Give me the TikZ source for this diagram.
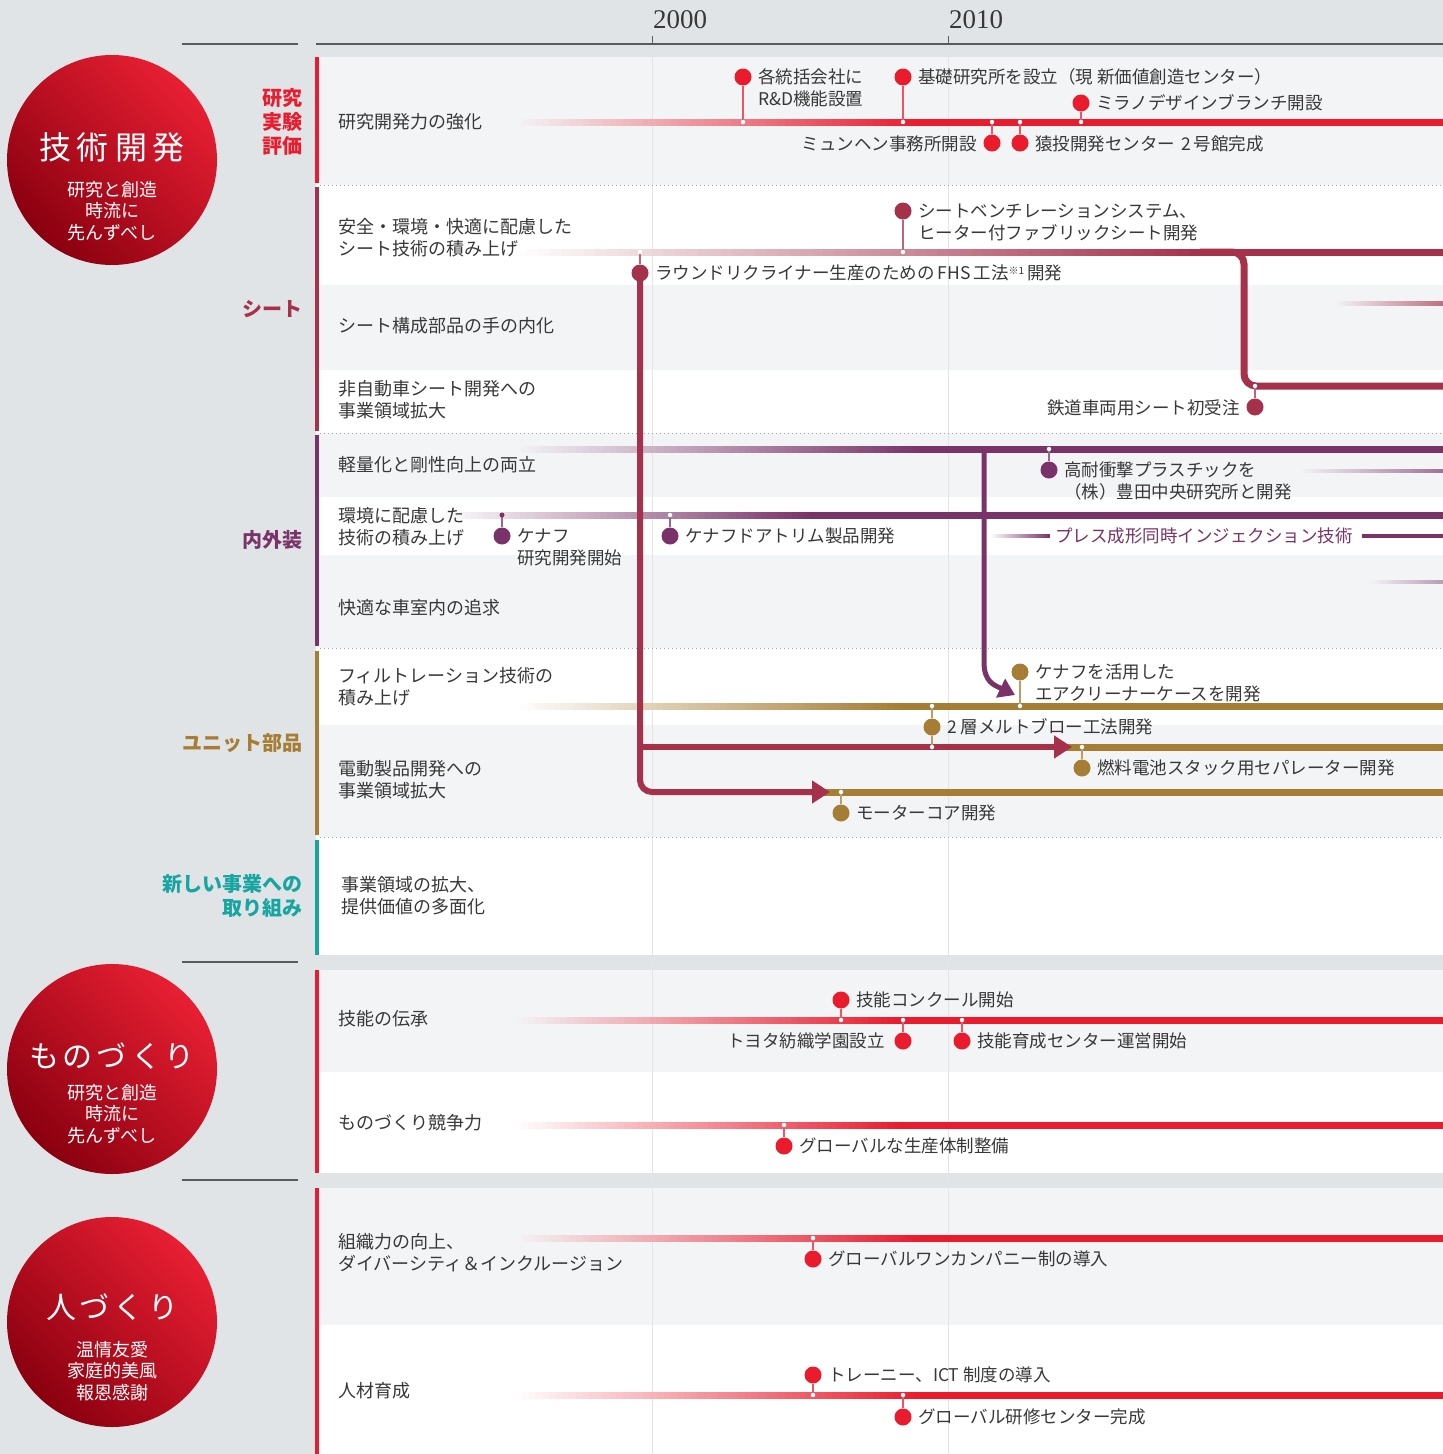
\documentclass[tikz,border=0pt]{standalone}
\usepackage{fontspec}
\setmainfont{Noto Sans CJK JP}
\newfontfamily\yrfont{Liberation Serif}
\usetikzlibrary{arrows.meta}
\definecolor{bgc}{HTML}{E1E4E7}
\definecolor{ltc}{HTML}{F3F4F6}
\definecolor{redc}{HTML}{EA1B2D}
\definecolor{seatc}{HTML}{A5314A}
\definecolor{purc}{HTML}{7A3368}
\definecolor{goldc}{HTML}{A67D34}
\definecolor{tealc}{HTML}{17A5A2}
\definecolor{txtc}{HTML}{383838}
\definecolor{gridc}{HTML}{E2E4E8}
\definecolor{rulec}{HTML}{5A5A5A}
\definecolor{cirlt}{HTML}{E81F33}
\definecolor{cirdk}{HTML}{8A000F}
\colorlet{seatlt}{seatc!70!white}
\colorlet{purlt}{purc!70!white}
\colorlet{purvlt}{purc!50!white}
\newcommand\fsz[2]{\fontsize{#1}{#2}\selectfont}
% y, x0, x1, color, bg, width
\newcommand\tline[6]{%
 \pgfmathsetmacro\stw{(#3-#2)/60}%
 \foreach \i in {0,...,59}{%
   \pgfmathsetmacro\pp{(\i+0.5)*100/60}%
   \pgfmathsetmacro\xa{#2+\stw*\i}%
   \pgfmathsetmacro\xb{#2+\stw*(\i+1)+0.6}%
   \fill[#4!\pp!#5] (\xa,{#1-#6/2}) rectangle (\xb,{#1+#6/2});}%
 \fill[#4] ({#3},{#1-#6/2}) rectangle (1443,{#1+#6/2});}
% name, color, x, doty, liney, labx, laby, style, text
\newcommand\event[9]{%
 \node[dot=#2] (#1) at (#3,#4) {};
 \coordinate (#1l) at (#3,#5);
 \draw[stem=#2] (#1) -- (#1l);
 \node[jn] at (#1l) {};
 \node[#8] (#1t) at (#6,#7) {#9};}
\tikzset{
 dot/.style={circle, fill=#1, minimum size=17pt, inner sep=0pt},
 jn/.style={circle, fill=white, minimum size=4.5pt, inner sep=0pt},
 stem/.style={draw=#1!75, line width=1.3pt},
 ev/.style={font=\fsz{17.5}{22}, text=txtc, inner sep=0pt, anchor=west, align=left},
 evr/.style={font=\fsz{17.5}{22}, text=txtc, inner sep=0pt, anchor=east, align=right},
 rl/.style={font=\fsz{18}{22}, text=txtc, inner sep=0pt, anchor=west, align=left},
 cat/.style={font=\fsz{20}{24}\bfseries, inner sep=0pt, anchor=east, align=right, text=#1},
 sep/.style={gray!70, line width=1pt, dash pattern=on 1pt off 3pt},
 rulel/.style={rulec, line width=1.5pt},
 conn/.style={line width=6pt, -{Triangle[length=18pt,width=22pt]}},
 circ/.style={top color=cirlt, bottom color=cirdk, shading angle=-45},
}
\begin{document}
\begin{tikzpicture}[x=1pt,y=-1pt]
\useasboundingbox (0,0) rectangle (1443,1454);
\fill[bgc] (0,0) rectangle (1443,1454);
% row backgrounds
\fill[ltc] (316,57) rectangle (1443,185);
\fill[white] (316,185) rectangle (1443,285);
\fill[ltc] (316,285) rectangle (1443,370);
\fill[white] (316,370) rectangle (1443,433);
\fill[ltc] (316,433) rectangle (1443,497);
\fill[white] (316,497) rectangle (1443,555);
\fill[ltc] (316,555) rectangle (1443,648);
\fill[white] (316,648) rectangle (1443,725);
\fill[ltc] (316,725) rectangle (1443,837);
\fill[white] (316,837) rectangle (1443,955);
\fill[ltc] (316,970) rectangle (1443,1072);
\fill[white] (316,1072) rectangle (1443,1173);
\fill[ltc] (316,1188) rectangle (1443,1325);
\fill[white] (316,1325) rectangle (1443,1454);
% grid lines
\draw[gridc, line width=1pt] (652,57) -- (652,1454);
\draw[gridc, line width=1pt] (948,57) -- (948,1454);
\draw[rulec, line width=1pt] (652,36) -- (652,44);
\draw[rulec, line width=1pt] (948,36) -- (948,44);
% separators
\draw[sep] (320,185) -- (1443,185);
\draw[sep] (320,433) -- (1443,433);
\draw[sep] (320,648) -- (1443,648);
\draw[sep] (320,837) -- (1443,837);
% left bars
\fill[redc] (315,57) rectangle (319,183);
\fill[seatc] (315,187) rectangle (319,431);
\fill[purc] (315,435) rectangle (319,646);
\fill[goldc] (315,651) rectangle (319,835);
\fill[tealc] (315,840) rectangle (319,955);
\fill[redc] (315,970) rectangle (319,1173);
\fill[redc] (315,1188) rectangle (319,1454);
% header
\draw[rulel] (316,44) -- (1443,44);
\draw[rulel] (182,44) -- (298,44);
\draw[rulel] (182,962) -- (298,962);
\draw[rulel] (182,1180) -- (298,1180);
\node[font=\yrfont\fsz{27}{30}, text=txtc, anchor=west, inner sep=0pt] (y2000) at (653,20) {2000};
\node[font=\yrfont\fsz{27}{30}, text=txtc, anchor=west, inner sep=0pt] (y2010) at (949,20) {2010};
% circles
\shade[circ] (112,160) circle[radius=105];
\shade[circ] (112,1069) circle[radius=105];
\shade[circ] (112,1322) circle[radius=105];
\node[font=\fsz{32}{36}, text=white, inner sep=0pt] (c1t) at (112,147) {技\hspace{6pt}術\hspace{6pt}開\hspace{6pt}発};
\node[font=\fsz{18}{21.5}, text=white, align=center, inner sep=0pt] (c1s) at (112,211) {研究と創造\\時流に\\先んずべし};
\node[font=\fsz{30}{34}, text=white, inner sep=0pt] (c2t) at (112,1056) {も\hspace{4pt}の\hspace{4pt}づ\hspace{4pt}く\hspace{4pt}り};
\node[font=\fsz{18}{21.5}, text=white, align=center, inner sep=0pt] (c2s) at (112,1114) {研究と創造\\時流に\\先んずべし};
\node[font=\fsz{30}{34}, text=white, inner sep=0pt] (c3t) at (112,1307) {人\hspace{4pt}づ\hspace{4pt}く\hspace{4pt}り};
\node[font=\fsz{18}{21.5}, text=white, align=center, inner sep=0pt] (c3s) at (112,1371) {温情友愛\\家庭的美風\\報恩感謝};
% category labels
\node[cat=redc] (k1) at (303,122) {研究\\実験\\評価};
\node[cat=seatc] (k2) at (303,309) {シート};
\node[cat=purc] (k3) at (303,540) {内外装};
\node[cat=goldc] (k4) at (303,743) {ユニット部品};
\node[cat=tealc] (k5) at (303,896) {新しい事業への\\取り組み};
% timelines
\tline{122}{515}{920}{redc}{ltc}{7}
\tline{252}{515}{1200}{seatc}{white}{7}
\tline{303}{1335}{1443}{seatlt}{ltc}{5}
\tline{449}{515}{920}{purc}{ltc}{7}
\tline{471}{1300}{1443}{purlt}{ltc}{4}
\tline{515}{440}{810}{purc}{white}{7}
\tline{582}{1370}{1443}{purvlt}{ltc}{4}
\tline{706}{515}{900}{goldc}{white}{7}
\fill[goldc] (1060,743.5) rectangle (1443,750.5);
\fill[goldc] (820,788.5) rectangle (1443,795.5);
\tline{1020}{515}{900}{redc}{ltc}{7}
\tline{1125}{515}{900}{redc}{white}{7}
\tline{1238}{515}{920}{redc}{ltc}{7}
\tline{1395}{515}{920}{redc}{white}{7}
% press forming line
\tline{536}{990}{1050}{purc}{white}{4}
\fill[white] (1050,530) rectangle (1362,542);
\node[font=\fsz{17.5}{22}, text=purc, anchor=west, inner sep=0pt] (press) at (1055,536) {プレス成形同時インジェクション技術};
% row labels
\node[rl] (r1) at (338,122) {研究開発力の強化};
\node[rl] (r2) at (338,238) {安全・環境・快適に配慮した\\シート技術の積み上げ};
\node[rl] (r3) at (338,326) {シート構成部品の手の内化};
\node[rl] (r4) at (338,400) {非自動車シート開発への\\事業領域拡大};
\node[rl] (r5) at (338,465) {軽量化と剛性向上の両立};
\node[rl] (r6) at (338,527) {環境に配慮した\\技術の積み上げ};
\node[rl] (r7) at (338,608) {快適な車室内の追求};
\node[rl] (r8) at (338,687) {フィルトレーション技術の\\積み上げ};
\node[rl] (r9) at (338,780) {電動製品開発への\\事業領域拡大};
\node[rl] (r10) at (341,896) {事業領域の拡大、\\提供価値の多面化};
\node[rl] (r11) at (338,1019) {技能の伝承};
\node[rl] (r12) at (338,1123) {ものづくり競争力};
\node[rl] (r13) at (338,1253) {組織力の向上、\\ダイバーシティ＆インクルージョン};
\node[rl] (r14) at (338,1391) {人材育成};
% seat branch
\coordinate (sb0) at (1200,252);
\coordinate (sb1) at (1443,386);
\draw[seatc, line width=7pt, rounded corners=12pt] (sb0) -- (1244,252) -- (1244,386) -- (sb1);
% purple branch
\coordinate (pb0) at (984,449);
\coordinate (pb1) at (1015,695);
\draw[purc, line width=5pt, -{Triangle[length=16pt,width=20pt]}] (pb0) -- (984,662) .. controls (984,682) and (994,685) .. (pb1);
% FHS connectors
\node[dot=seatc] (s2) at (640,273) {};
\coordinate (fhs2) at (1072,747);
\coordinate (fhs1) at (830,792);
\coordinate (fhsj) at (640,747);
\draw[seatc, conn, rounded corners=12pt] (s2.center) -- (640,792) -- (fhs1);
\draw[seatc, conn] (fhsj) -- (fhs2);
% research events
\event{e1}{redc}{743}{77}{122}{758}{88}{ev}{各統括会社に\\R\&D機能設置}
\event{e2}{redc}{903}{77}{122}{918}{77}{ev}{基礎研究所を設立（現 新価値創造センター）}
\event{e3}{redc}{1081}{103}{122}{1096}{103}{ev}{ミラノデザインブランチ開設}
\event{e4}{redc}{992}{143}{122}{977}{144}{evr}{ミュンヘン事務所開設}
\event{e5}{redc}{1020}{143}{122}{1035}{144}{ev}{猿投開発センター\hspace{6pt}2\hspace{3pt}号館完成}
% seat events
\event{s1}{seatc}{903}{211}{252}{918}{222}{ev}{シートベンチレーションシステム、\\ヒーター付ファブリックシート開発}
\coordinate (s2l) at (640,252);
\draw[stem=seatc] (s2) -- (s2l);
\node[jn] at (s2l) {};
\node[ev] (s2t) at (655,273) {ラウンドリクライナー生産のための\hspace{3pt}FHS\hspace{3pt}工法\raisebox{5pt}{\fsz{10}{10}※1}\hspace{3pt}開発};
\event{s3}{seatc}{1255}{407}{386}{1240}{408}{evr}{鉄道車両用シート初受注}
% interior events
\event{i1}{purc}{1049}{470}{449}{1064}{481}{ev}{高耐衝撃プラスチックを\\（株）豊田中央研究所と開発}
\node[dot=purc] (i2) at (502,536) {};
\coordinate (i2l) at (502,515);
\draw[stem=purc] (i2) -- (i2l);
\fill[purc] (i2l) circle[radius=2.5];
\node[ev] (i2t) at (517,547) {ケナフ\\研究開発開始};
\event{i3}{purc}{670}{536}{515}{685}{536}{ev}{ケナフドアトリム製品開発}
% unit events
\event{u1}{goldc}{1020}{672}{706}{1035}{683}{ev}{ケナフを活用した\\エアクリーナーケースを開発}
\event{u2}{goldc}{932}{727}{706}{947}{727}{ev}{2\hspace{4pt}層メルトブロー工法開発}
\coordinate (u2m) at (932,747);
\draw[stem=goldc] (u2) -- (u2m);
\node[jn] at (u2m) {};
\event{u3}{goldc}{1082}{768}{747}{1097}{768}{ev}{燃料電池スタック用セパレーター開発}
\event{u4}{goldc}{841}{813}{792}{856}{813}{ev}{モーターコア開発}
% monozukuri events
\event{m1}{redc}{841}{1000}{1020}{856}{1000}{ev}{技能コンクール開始}
\event{m2}{redc}{903}{1041}{1020}{885}{1041}{evr}{トヨタ紡織学園設立}
\event{m3}{redc}{962}{1041}{1020}{977}{1041}{ev}{技能育成センター運営開始}
\event{m4}{redc}{784}{1146}{1125}{799}{1146}{ev}{グローバルな生産体制整備}
% hitozukuri events
\event{h1}{redc}{813}{1259}{1238}{828}{1259}{ev}{グローバルワンカンパニー制の導入}
\event{h2}{redc}{813}{1375}{1395}{828}{1375}{ev}{トレーニー、ICT\hspace{4pt}制度の導入}
\event{h3}{redc}{903}{1417}{1395}{918}{1417}{ev}{グローバル研修センター完成}
\end{tikzpicture}
\end{document}
